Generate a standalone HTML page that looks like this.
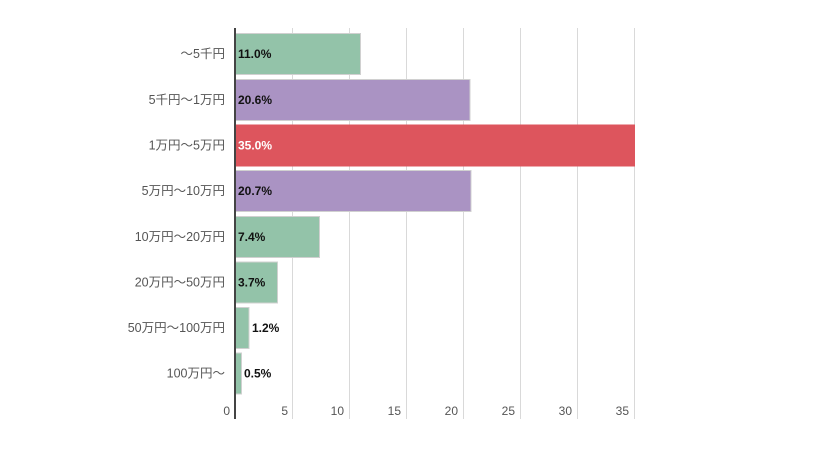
<!DOCTYPE html>
<html><head><meta charset="utf-8"><style>
body{margin:0;background:#fff;}
svg text{font-family:"Liberation Sans","Noto Sans CJK JP",sans-serif;}
</style></head><body>
<svg width="824" height="461" xmlns="http://www.w3.org/2000/svg">
<g stroke="#d9d9d9" stroke-width="1">
<line x1="292.5" y1="28" x2="292.5" y2="419"/>
<line x1="349.5" y1="28" x2="349.5" y2="419"/>
<line x1="406.5" y1="28" x2="406.5" y2="419"/>
<line x1="463.5" y1="28" x2="463.5" y2="419"/>
<line x1="520.5" y1="28" x2="520.5" y2="419"/>
<line x1="577.5" y1="28" x2="577.5" y2="419"/>
<line x1="634.5" y1="28" x2="634.5" y2="419"/>
</g>
<g stroke="#d0d0d0" stroke-width="1">
<rect x="235" y="33.5" width="125.5" height="41" fill="#93c3a9"/>
<rect x="235" y="79.5" width="235" height="41" fill="#aa93c3"/>
<rect x="235" y="125" width="399.5" height="41" fill="#dd555d" stroke="#dd555d"/>
<rect x="235" y="170.5" width="236" height="41" fill="#aa93c3"/>
<rect x="235" y="216.5" width="84.5" height="41" fill="#93c3a9"/>
<rect x="235" y="262" width="42.5" height="41" fill="#93c3a9"/>
<rect x="235" y="307.5" width="14" height="41" fill="#93c3a9"/>
<rect x="235" y="353" width="6.5" height="41" fill="#93c3a9"/>
</g>
<line x1="235" y1="28" x2="235" y2="419" stroke="#444" stroke-width="2"/>
<g font-size="12.5" fill="#555" text-anchor="end">
<text x="225" y="58">～5千円</text>
<text x="225" y="104">5千円～1万円</text>
<text x="225" y="149.5">1万円～5万円</text>
<text x="225" y="195">5万円～10万円</text>
<text x="225" y="241">10万円～20万円</text>
<text x="225" y="286.5">20万円～50万円</text>
<text x="225" y="332">50万円～100万円</text>
<text x="225" y="377.5">100万円～</text>
</g>
<g font-size="12" font-weight="bold" fill="#111">
<text x="238" y="58">11.0%</text>
<text x="238" y="104">20.6%</text>
<text x="238" y="149.5" fill="#fff">35.0%</text>
<text x="238" y="195">20.7%</text>
<text x="238" y="241">7.4%</text>
<text x="238" y="286.5">3.7%</text>
<text x="252" y="332">1.2%</text>
<text x="244" y="377.5">0.5%</text>
</g>
<g font-size="12" fill="#555" text-anchor="end">
<text x="230" y="415">0</text>
<text x="288" y="415">5</text>
<text x="344" y="415">10</text>
<text x="401" y="415">15</text>
<text x="458" y="415">20</text>
<text x="515" y="415">25</text>
<text x="572" y="415">30</text>
<text x="629" y="415">35</text>
</g>
</svg>
</body></html>
